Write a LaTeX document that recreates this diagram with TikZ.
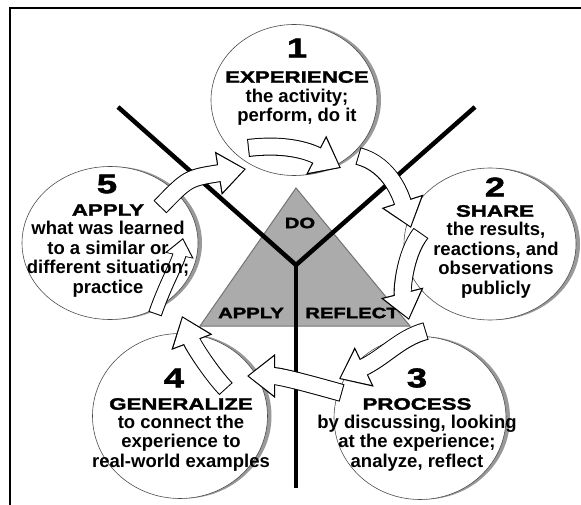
\documentclass[tikz,border=0pt]{standalone}
\usepackage{fontspec}
\setmainfont{Liberation Sans}
\newfontfamily\headfont{Liberation Sans}[FakeStretch=1.35,FakeBold=2]
\usetikzlibrary{arrows.meta, shapes.geometric, shadows}

\begin{document}
\begin{tikzpicture}[
    x = 1pt, y = -1pt,
    bubble/.style = {ellipse, draw = black!70, line width = 0.6pt, fill = white,
      inner sep = 0pt,
      drop shadow = {shadow xshift = 4pt, shadow yshift = 0pt, fill = black!40, opacity = 1}},
    num/.style  = {inner sep = 0pt, font = \headfont\bfseries\fontsize{27}{27}\selectfont},
    head/.style = {inner sep = 0pt, font = \headfont\bfseries\fontsize{16.5}{16.5}\selectfont},
    tri/.style  = {inner sep = 0pt, font = \headfont\bfseries\fontsize{15}{15}\selectfont},
    body/.style = {inner sep = 0pt, align = center, font = \bfseries\fontsize{18.5}{19.5}\selectfont},
    flow/.style = {draw = white, line width = 16pt, shorten <= 1pt, shorten >= 1.8pt,
      -{Triangle[length = 25pt, width = 37pt]},
      preaction = {draw = black, line width = 18pt, shorten <= 0pt, shorten >= 0pt,
        -{Triangle[length = 28pt, width = 42pt]}}},
    thinflow/.style = {draw = white, line width = 12pt, shorten <= 1pt, shorten >= 1.7pt,
      -{Triangle[length = 15.5pt, width = 24pt]},
      preaction = {draw = black, line width = 14pt, shorten <= 0pt, shorten >= 0pt,
        -{Triangle[length = 18pt, width = 28pt]}}}
  ]
  \useasboundingbox (0,0) rectangle (581,505);

  % frame
  \draw[line width = 1.8pt] (10,505) -- (10,8) -- (581,8);

  % triangle and the Y
  \coordinate (apex)  at (296,188);
  \coordinate (baseL) at (200,326);
  \coordinate (baseR) at (410,326);
  \draw[fill = black!33, draw = black!55, line width = 1pt] (apex) -- (baseR) -- (baseL) -- cycle;

  \coordinate (armL) at (118,107);
  \coordinate (armR) at (475,107);
  \coordinate (fork) at (296,265);
  \coordinate (stem) at (296,488);
  \draw[line width = 4.5pt] (armL) -- (fork) -- (armR);
  \draw[line width = 4.5pt] (fork) -- (stem);

  \node[tri] (do)      at (300,223) {DO};
  \node[tri] (tapply)  at (251,313) {APPLY};
  \node[tri] (reflect) at (352,313) {REFLECT};

  % circles
  \node[bubble, minimum width = 166pt, minimum height = 151pt] (exp)   at (294,100) {};
  \node[bubble, minimum width = 172pt, minimum height = 152pt] (share) at (490,244) {};
  \node[bubble, minimum width = 172pt, minimum height = 163pt] (proc)  at (420,418) {};
  \node[bubble, minimum width = 175pt, minimum height = 165pt] (gen)   at (180,416) {};
  \node[bubble, minimum width = 176pt, minimum height = 153pt] (apply) at (110,243) {};

  % arrows
  \coordinate (a1) at (248,148);  \coordinate (a2) at (341,168);
  \coordinate (b1) at (358,156);  \coordinate (b2) at (411,228);
  \coordinate (c1) at (421,233);  \coordinate (c2) at (409,320);
  \coordinate (d1) at (426,331);  \coordinate (d2) at (339,379);
  \coordinate (e1) at (342,393);  \coordinate (e2) at (247,376);
  \coordinate (f1) at (226,389);  \coordinate (f2) at (182,316);
  \coordinate (g1) at (155,314);  \coordinate (g2) at (183,238);
  \coordinate (h1) at (160,207);  \coordinate (h2) at (246,169);

  \draw[flow] (a1) .. controls (290,143) and (312,153) .. (a2);
  \draw[flow] (b1) .. controls (392,165) and (402,200) .. (b2);
  \draw[flow] (c1) .. controls (404,255) and (402,292) .. (c2);
  \draw[flow] (d1) .. controls (400,338) and (385,357) .. (d2);
  \draw[flow] (e1) .. controls (310,384) and (280,376) .. (e2);
  \draw[flow] (f1) .. controls (210,372) and (193,345) .. (f2);
  \draw[thinflow] (g1) .. controls (165,285) and (178,262) .. (g2);
  \draw[flow] (h1) .. controls (188,178) .. (h2);

  % Labels
  \node[num]  (n1) at (297,48)  {1};
  \node[head] (t1) at (297,77)  {EXPERIENCE};
  \node[body] (x1) at (297,107) {the activity;\\perform, do it};

  \node[num]  (n2) at (495,187) {2};
  \node[head] (t2) at (495,211) {SHARE};
  \node[body] (x2) at (496,260) {the results,\\reactions, and\\observations\\publicly};

  \node[num]  (n3) at (417,378) {3};
  \node[head] (t3) at (417,404) {PROCESS};
  \node[body] (x3) at (417,443) {by discussing, looking\\at the experience;\\analyze, reflect};

  \node[num]  (n4) at (174,378) {4};
  \node[head] (t4) at (181,404) {GENERALIZE};
  \node[body] (x4) at (181,443) {to connect the\\experience to\\real-world examples};

  \node[num]  (n5) at (107,184) {5};
  \node[head] (t5) at (108,210) {APPLY};
  \node[body] (x5) at (108,259) {what was learned\\to a similar or\\different situation;\\practice};
\end{tikzpicture}
\end{document}
